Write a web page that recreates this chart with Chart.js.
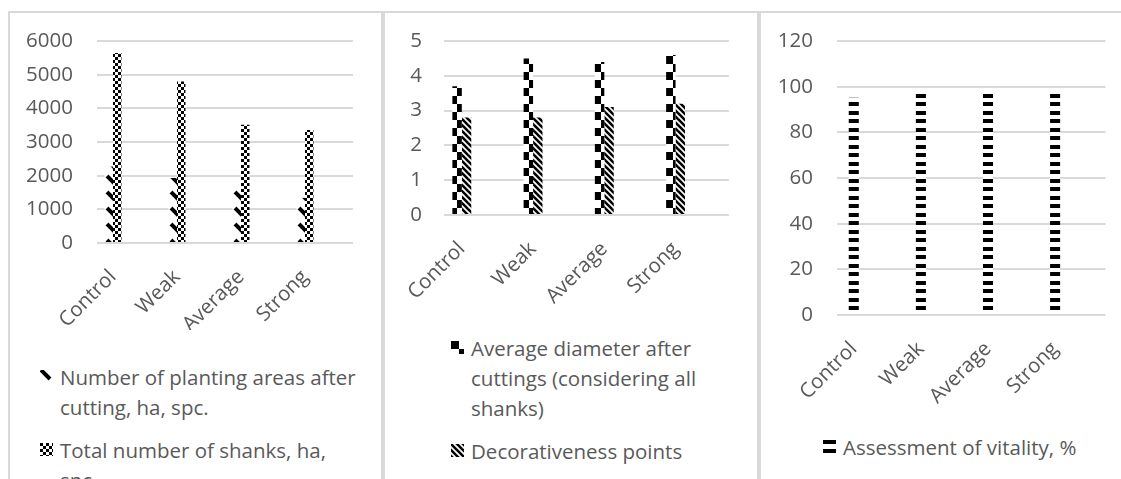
<!DOCTYPE html>
<html>
<head>
<meta charset="utf-8">
<title>Cutting intensity indicators</title>
<script src="https://cdn.jsdelivr.net/npm/chart.js@4.4.1/dist/chart.umd.min.js"></script>
<style>
  html, body { margin: 0; padding: 0; background: #ffffff; }
  body { width: 1121px; height: 479px; overflow: hidden; position: relative; font-family: 'Open Sans', sans-serif; }
  canvas { position: absolute; top: 0; }
  .rule { position: absolute; background: #d9d9d9; }
  .legend { position: absolute; color: #595959; font-size: 20.5px; line-height: 30px; white-space: nowrap; }
  .legend .item { position: relative; padding-left: 20px; }
  .legend .item + .item { margin-top: 13px; }
  .legend .item canvas { position: absolute; left: 0; top: 8px; }
</style>
</head>
<body>
<div class="rule" style="left:8px; top:11px; width:1113px; height:2px;"></div>
<div class="rule" style="left:8px; top:11px; width:2px; height:468px;"></div>
<div class="rule" style="left:381px; top:11px; width:4px; height:468px;"></div>
<div class="rule" style="left:757px; top:11px; width:4px; height:468px;"></div>

<canvas id="panelA" width="371" height="330" style="left:10px"></canvas>
<canvas id="panelB" width="372" height="330" style="left:385px"></canvas>
<canvas id="panelC" width="360" height="420" style="left:761px"></canvas>

<div class="legend" id="legendA" style="left:40px; top:362px;"></div>
<div class="legend" id="legendB" style="left:451px; top:333px;"></div>
<div class="legend" id="legendC" style="left:823px; top:432px;"></div>

<script>
// Treatment groups along the x axis
const categories = ['Control', 'Weak', 'Average', 'Strong'];

// Left panel: planting areas and shanks per hectare
const plantingAreas = [2270, 1930, 1580, 1340];
const totalShanks = [5640, 4800, 3510, 3360];
const ticksA = [0, 1000, 2000, 3000, 4000, 5000, 6000];

// Middle panel: diameter and decorativeness score
const avgDiameter = [3.7, 4.5, 4.4, 4.6];
const decorativeness = [2.8, 2.8, 3.1, 3.2];
const ticksB = [0, 1, 2, 3, 4, 5];

// Right panel: vitality assessment
const vitality = [95.2, 97.5, 98.3, 98.6];
const ticksC = [0, 20, 40, 60, 80, 100, 120];

// Series names, split into the lines shown under each panel
const namePlanting = ['Number of planting areas after', 'cutting, ha, spc.'];
const nameShanks = ['Total number of shanks, ha,', 'spc.'];
const nameDiameter = ['Average diameter after', 'cuttings (considering all', 'shanks)'];
const nameDecor = ['Decorativeness points'];
const nameVitality = ['Assessment of vitality, %'];

const INK = '#595959';
const GRID = '#d9d9d9';

Chart.defaults.font.family = "'Open Sans', sans-serif";
Chart.defaults.font.size = 20.5;
Chart.defaults.color = INK;

// Black-and-white fill patterns
function makePattern(kind) {
  const c = document.createElement('canvas');
  const g = c.getContext('2d');
  const size = { dashDiag: [16, 16], smallChecker: [6, 6], largeChecker: [16, 16], wideDiag: [6, 6], dashHoriz: [16, 17] }[kind];
  c.width = size[0]; c.height = size[1];
  g.fillStyle = '#ffffff';
  g.fillRect(0, 0, c.width, c.height);
  g.fillStyle = '#000000';
  g.strokeStyle = '#000000';
  if (kind === 'dashDiag') {
    g.lineWidth = 4;
    for (const dx of [-16, 0, 16]) {
      for (const dy of [-16, 0, 16]) {
        g.beginPath();
        g.moveTo(1 + dx, 0 + dy); g.lineTo(10 + dx, 9 + dy);
        g.stroke();
      }
    }
  } else if (kind === 'smallChecker') {
    g.fillRect(0, 0, 3, 3);
    g.fillRect(3, 3, 3, 3);
  } else if (kind === 'largeChecker') {
    g.fillRect(0, 0, 8, 8);
    g.fillRect(8, 8, 8, 8);
  } else if (kind === 'wideDiag') {
    g.lineWidth = 2.6;
    for (const dx of [-6, 0, 6]) {
      g.beginPath();
      g.moveTo(dx - 1, -1); g.lineTo(dx + 7, 7);
      g.stroke();
    }
  } else if (kind === 'dashHoriz') {
    g.fillRect(0, 0, 16, 4);
    g.fillRect(0, 9, 16, 4);
  }
  return g.createPattern(c, 'repeat');
}

// Each group sits in its own slot followed by an empty one
const slotLabels = categories.flatMap(c => [c, '']);
const spread = arr => arr.flatMap(v => [v, null]);

function buildPanel(id, opts) {
  const ticks = opts.ticks;
  return new Chart(document.getElementById(id), {
    type: 'bar',
    data: {
      labels: slotLabels,
      datasets: opts.series.map(s => ({
        label: s.name.join(' '),
        data: spread(s.values),
        backgroundColor: makePattern(s.pattern),
        borderWidth: 0,
        categoryPercentage: opts.groupWidth,
        barPercentage: 1
      }))
    },
    options: {
      responsive: false,
      animation: false,
      events: [],
      layout: { padding: { top: 41, right: opts.padRight, left: 0, bottom: 0 } },
      plugins: { legend: { display: false }, tooltip: { enabled: false } },
      scales: {
        x: {
          grid: { display: false },
          border: { display: false },
          ticks: { autoSkip: false, minRotation: 45, maxRotation: 45, padding: opts.xPad, color: INK },
          afterFit: s => { s.height = opts.xHeight; }
        },
        y: {
          min: ticks[0],
          max: ticks[ticks.length - 1],
          afterBuildTicks: s => { s.ticks = ticks.map(v => ({ value: v })); },
          grid: { color: GRID, lineWidth: 2, drawTicks: false },
          border: { display: false },
          ticks: { padding: opts.yPad, color: INK, callback: v => String(v) },
          afterFit: s => { s.width = opts.yWidth; }
        }
      }
    }
  });
}

const seriesA = [
  { name: namePlanting, values: plantingAreas, pattern: 'dashDiag' },
  { name: nameShanks, values: totalShanks, pattern: 'smallChecker' }
];
const seriesB = [
  { name: nameDiameter, values: avgDiameter, pattern: 'largeChecker' },
  { name: nameDecor, values: decorativeness, pattern: 'wideDiag' }
];
const seriesC = [
  { name: nameVitality, values: vitality, pattern: 'dashHoriz' }
];

buildPanel('panelA', { series: seriesA, ticks: ticksA, groupWidth: 0.53, yWidth: 87, yPad: 24, xHeight: 87, xPad: 14, padRight: 28 });
buildPanel('panelB', { series: seriesB, ticks: ticksB, groupWidth: 0.53, yWidth: 59, yPad: 22, xHeight: 115, xPad: 14, padRight: 28 });
buildPanel('panelC', { series: seriesC, ticks: ticksC, groupWidth: 0.30, yWidth: 76, yPad: 24, xHeight: 105, xPad: 14, padRight: 15 });

// Legends under each panel, with a small swatch of the series fill
function buildLegend(id, series) {
  const box = document.getElementById(id);
  series.forEach(s => {
    const item = document.createElement('div');
    item.className = 'item';
    const sw = document.createElement('canvas');
    sw.width = 13; sw.height = 13;
    const g = sw.getContext('2d');
    g.fillStyle = makePattern(s.pattern);
    g.fillRect(0, 0, 13, 13);
    item.appendChild(sw);
    s.name.forEach(line => {
      const row = document.createElement('div');
      row.textContent = line;
      item.appendChild(row);
    });
    box.appendChild(item);
  });
}
buildLegend('legendA', seriesA);
buildLegend('legendB', seriesB);
buildLegend('legendC', seriesC);
</script>
</body>
</html>
